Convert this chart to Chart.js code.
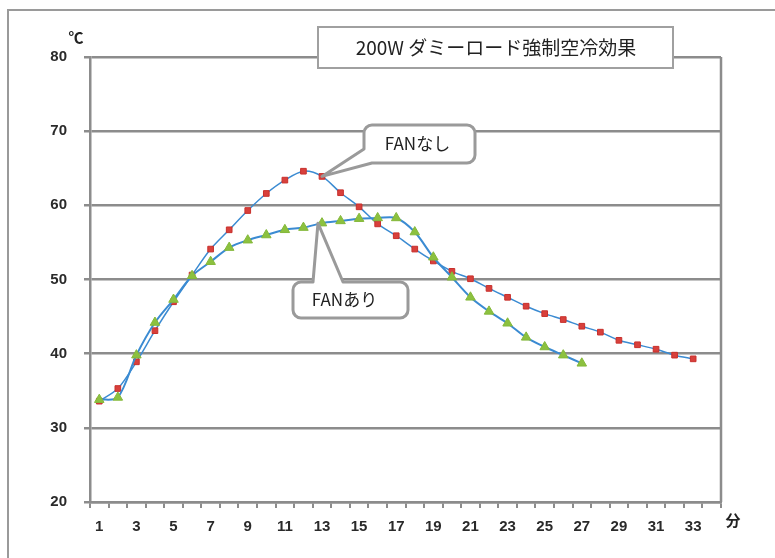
<!DOCTYPE html>
<html>
<head>
<meta charset="utf-8">
<script src="https://cdn.jsdelivr.net/npm/chart.js@4.4.1/dist/chart.umd.min.js"></script>
<style>
  html, body { margin: 0; padding: 0; background: #fff; }
  #wrap { width: 775px; height: 558px; position: relative; }
</style>
</head>
<body>
<div id="wrap"><canvas id="c" width="775" height="558"></canvas></div>
<script>
// minutes on the category axis
const minutes = [];
for (let m = 1; m <= 34; m++) minutes.push(String(m));

// ℃ readings, no fan
const fanNashi = [33.6, 35.3, 38.9, 43.1, 47.0, 50.6, 54.1, 56.7, 59.3, 61.6, 63.4, 64.6, 63.9,
                  61.7, 59.8, 57.5, 55.9, 54.1, 52.5, 51.1, 50.1, 48.8, 47.6, 46.4, 45.4,
                  44.6, 43.7, 42.9, 41.8, 41.2, 40.6, 39.8, 39.3];

// ℃ readings, fan on
const fanAri = [33.8, 34.1, 39.8, 44.2, 47.3, 50.5, 52.4, 54.3, 55.3, 56.0, 56.7, 57.0, 57.6,
                57.9, 58.2, 58.3, 58.3, 56.4, 53.0, 50.3, 47.6, 45.7, 44.1, 42.2, 40.9,
                39.8, 38.7];

const yTicks = { min: 20, max: 80, step: 10 };

const titleText = '200W ダミーロード強制空冷効果';
const gridGray = '#8c8c8c';
const lineBlue = '#3b8bd2';
const jpFont = '"Noto Sans CJK JP", "Noto Sans", sans-serif';
const numFont = '"Liberation Sans Narrow", "Liberation Sans", Arial, sans-serif';

const overlay = {
    id: 'overlay',
    afterDraw(chart) {
        const ctx = chart.ctx;
        const xs = chart.scales.x, ys = chart.scales.y;
        ctx.save();

        // outer frame
        ctx.strokeStyle = '#9a9a9a';
        ctx.lineWidth = 2;
        ctx.strokeRect(8, 10, 820, 620);

        // unit labels
        ctx.fillStyle = '#222';
        ctx.font = 'bold 15px ' + jpFont;
        ctx.textAlign = 'center';
        ctx.textBaseline = 'middle';
        ctx.fillText('℃', 76, 37);
        ctx.fillText('分', 733, 520);

        // title box
        ctx.fillStyle = '#fff';
        ctx.fillRect(318, 27, 355, 41);
        ctx.strokeStyle = '#a0a0a0';
        ctx.lineWidth = 2;
        ctx.strokeRect(318, 27, 355, 41);
        ctx.fillStyle = '#222';
        ctx.font = '19px ' + jpFont;
        ctx.fillText(titleText, 496, 48);

        // callout: FANなし
        let tx = xs.getPixelForValue(12), ty = ys.getPixelForValue(fanNashi[12]);
        ctx.beginPath();
        let x0 = 364, y0 = 125, x1 = 475, y1 = 163, r = 8;
        ctx.moveTo(x0 + r, y0);
        ctx.arcTo(x1, y0, x1, y1, r);
        ctx.arcTo(x1, y1, x0, y1, r);
        ctx.lineTo(x0 + 8, y1);
        ctx.lineTo(tx, ty);
        ctx.lineTo(x0, y1 - 14);
        ctx.arcTo(x0, y0, x1, y0, r);
        ctx.closePath();
        ctx.fillStyle = '#fff';
        ctx.fill();
        ctx.strokeStyle = '#9a9a9a';
        ctx.lineWidth = 3;
        ctx.lineJoin = 'round';
        ctx.stroke();
        ctx.fillStyle = '#222';
        ctx.font = '17px ' + jpFont;
        ctx.fillText('FANなし', (x0 + x1) / 2 - 2, 144);

        // callout: FANあり
        tx = xs.getPixelForValue(12) - 4; ty = ys.getPixelForValue(fanAri[12]);
        x0 = 293; y0 = 282; x1 = 408; y1 = 318;
        ctx.beginPath();
        ctx.moveTo(x0 + r, y0);
        ctx.lineTo(313, y0);
        ctx.lineTo(tx, ty);
        ctx.lineTo(343, y0);
        ctx.arcTo(x1, y0, x1, y1, r);
        ctx.arcTo(x1, y1, x0, y1, r);
        ctx.arcTo(x0, y1, x0, y0, r);
        ctx.arcTo(x0, y0, x1, y0, r);
        ctx.closePath();
        ctx.fillStyle = '#fff';
        ctx.fill();
        ctx.stroke();
        ctx.fillStyle = '#222';
        ctx.fillText('FANあり', (x0 + x1) / 2 - 6, 300);

        ctx.restore();
    }
};

new Chart(document.getElementById('c').getContext('2d'), {
    type: 'line',
    data: {
        labels: minutes,
        datasets: [
            {
                label: 'FANなし',
                data: fanNashi,
                borderColor: lineBlue,
                borderWidth: 1.5,
                tension: 0.3,
                pointStyle: 'rect',
                pointRadius: 4,
                pointBackgroundColor: '#d8403c',
                pointBorderColor: '#c8302c',
                pointBorderWidth: 1,
                order: 1
            },
            {
                label: 'FANあり',
                data: fanAri,
                borderColor: lineBlue,
                borderWidth: 2,
                tension: 0.3,
                pointStyle: 'triangle',
                pointRadius: 5.5,
                pointBackgroundColor: '#8cc13f',
                pointBorderColor: '#84b83a',
                pointBorderWidth: 1,
                order: 0
            }
        ]
    },
    options: {
        responsive: false,
        animation: false,
        layout: { padding: { left: 0, right: 54, top: 57, bottom: 0 } },
        plugins: {
            legend: { display: false },
            tooltip: { enabled: false }
        },
        scales: {
            x: {
                type: 'category',
                offset: true,
                afterFit(scale) { scale.height = 56; },
                grid: {
                    offset: true,
                    drawOnChartArea: false,
                    color: gridGray,
                    lineWidth: 2,
                    tickLength: 6
                },
                border: { display: true, color: gridGray, width: 2.5 },
                ticks: {
                    autoSkip: false,
                    maxRotation: 0,
                    padding: 10,
                    color: '#2a2a2a',
                    font: { family: numFont, size: 15, weight: 'bold' },
                    callback(v, i) { return i % 2 === 0 ? minutes[i] : ''; }
                }
            },
            y: {
                min: yTicks.min,
                max: yTicks.max,
                afterFit(scale) { scale.width = 90; },
                grid: {
                    color: gridGray,
                    lineWidth: 2.5,
                    tickLength: 6
                },
                border: { display: true, color: gridGray, width: 2.5 },
                ticks: {
                    stepSize: yTicks.step,
                    padding: 17,
                    color: '#2a2a2a',
                    font: { family: numFont, size: 15, weight: 'bold' }
                }
            }
        }
    },
    plugins: [{
        id: 'rightEdge',
        beforeDatasetsDraw(chart) {
            const a = chart.chartArea, ctx = chart.ctx;
            ctx.save();
            ctx.strokeStyle = gridGray;
            ctx.lineWidth = 2.5;
            ctx.beginPath();
            ctx.moveTo(a.right, a.top);
            ctx.lineTo(a.right, a.bottom);
            ctx.stroke();
            ctx.restore();
        }
    }, overlay]
});
</script>
</body>
</html>
